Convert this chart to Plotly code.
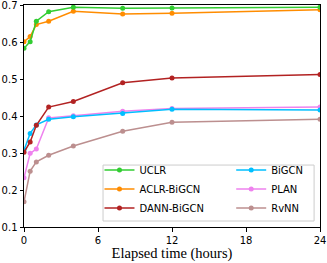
import plotly.graph_objects as go

hours = [0, 0.5, 1, 2, 4, 8, 12, 24]
uclr = [0.583, 0.601, 0.656, 0.682, 0.694, 0.691, 0.692, 0.694]
aclr = [0.601, 0.615, 0.647, 0.656, 0.683, 0.676, 0.678, 0.687]
dann = [0.302, 0.330, 0.375, 0.424, 0.439, 0.490, 0.503, 0.512]
bigcn = [0.308, 0.353, 0.376, 0.391, 0.398, 0.407, 0.418, 0.416]
plan = [0.233, 0.299, 0.311, 0.395, 0.401, 0.413, 0.420, 0.424]
rvnn = [0.168, 0.251, 0.276, 0.294, 0.319, 0.359, 0.383, 0.391]

series = [
    ("RvNN", rvnn, "#BC8F8F", "legend2"),
    ("PLAN", plan, "#EE82EE", "legend2"),
    ("BiGCN", bigcn, "#00BFFF", "legend2"),
    ("DANN-BiGCN", dann, "#B22222", "legend"),
    ("ACLR-BiGCN", aclr, "#FF8C00", "legend"),
    ("UCLR", uclr, "#32CD32", "legend"),
]
legend_rank = {"UCLR": 1, "ACLR-BiGCN": 2, "DANN-BiGCN": 3, "BiGCN": 1, "PLAN": 2, "RvNN": 3}

fig = go.Figure()
for name, vals, color, lg in series:
    fig.add_trace(go.Scatter(
        x=hours, y=vals, name=name, mode="lines+markers",
        line=dict(color=color, width=1.5),
        marker=dict(color=color, size=5),
        legend=lg, legendrank=legend_rank[name],
    ))

axis_common = dict(
    showgrid=False, zeroline=False, showline=True, linecolor="black", linewidth=1,
    mirror=True, ticks="outside", ticklen=3.5, tickcolor="black", automargin=False,
    ticklabeloverflow="allow",
    tickfont=dict(family="DejaVu Sans", size=10, color="black"),
)
fig.update_layout(
    width=327, height=263,
    margin=dict(l=24, r=7, t=5, b=36),
    paper_bgcolor="white", plot_bgcolor="white",
    xaxis=dict(range=[0, 24], tickvals=[0, 6, 12, 18, 24],
               title=dict(text="Elapsed time (hours)",
                          font=dict(family="Liberation Serif", size=14.5, color="black"),
                          standoff=2),
               **axis_common),
    yaxis=dict(range=[0.1, 0.7], tickvals=[0.1, 0.2, 0.3, 0.4, 0.5, 0.6, 0.7],
               tickformat=".1f", **axis_common),
    legend=dict(x=0.255, y=0.02, xanchor="left", yanchor="bottom",
                bgcolor="rgba(0,0,0,0)", font=dict(family="DejaVu Sans", size=10, color="black"),
                tracegroupgap=0, itemwidth=30),
    legend2=dict(x=0.70, y=0.02, xanchor="left", yanchor="bottom",
                 bgcolor="rgba(0,0,0,0)", font=dict(family="DejaVu Sans", size=10, color="black"),
                 tracegroupgap=0, itemwidth=30),
    shapes=[dict(type="rect", xref="paper", yref="paper", x0=0.267, x1=0.98, y0=0.027, y1=0.279,
                 line=dict(color="#cccccc", width=1), fillcolor="rgba(255,255,255,0.8)", layer="below")],
)
fig.write_html("out.html", config={"displayModeBar": False},
               post_script="document.body.style.margin='0';document.body.style.overflow='hidden';")
